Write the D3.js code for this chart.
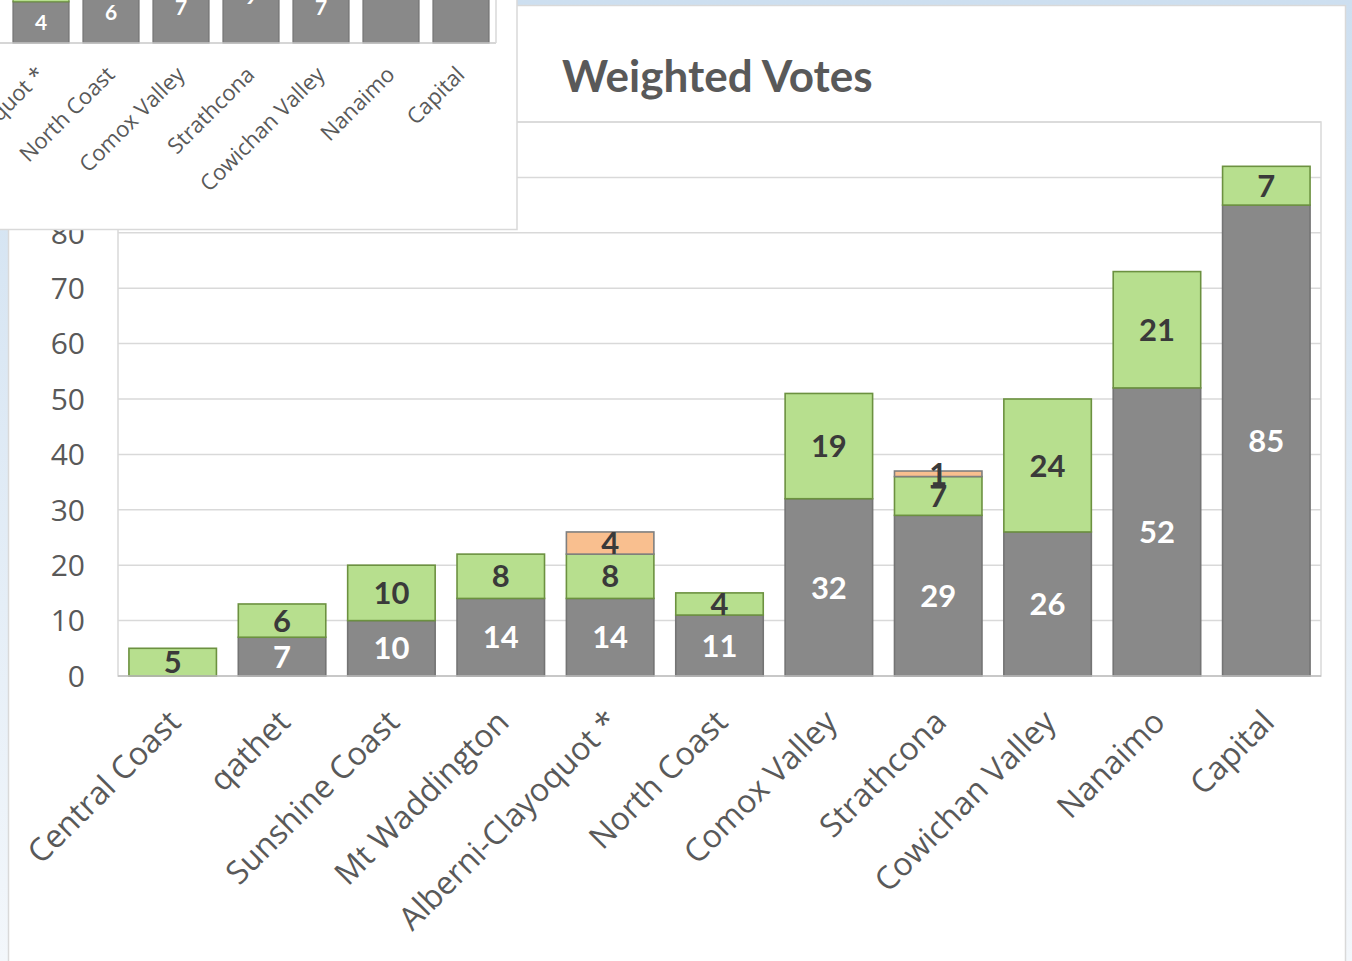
<!DOCTYPE html>
<html>
<head>
<meta charset="utf-8">
<script src="https://cdn.jsdelivr.net/npm/d3@7"></script>
<style>
  html, body { margin: 0; padding: 0; background: #dde8f4; overflow: hidden; }
  svg { display: block; }
</style>
</head>
<body>
<svg id="chart" width="1352" height="961"></svg>
<script>
// ---- data ----
const categories = ["Central Coast", "qathet", "Sunshine Coast", "Mt Waddington", "Alberni-Clayoquot *",
  "North Coast", "Comox Valley", "Strathcona", "Cowichan Valley", "Nanaimo", "Capital"];
const grayValues   = [0, 7, 10, 14, 14, 11, 32, 29, 26, 52, 85];
const greenValues  = [5, 6, 10, 8, 8, 4, 19, 7, 24, 21, 7];
const orangeValues = [0, 0, 0, 0, 4, 0, 0, 1, 0, 0, 0];
const yTicks = [0, 10, 20, 30, 40, 50, 60, 70, 80, 90, 100];
const titleText = "Weighted Votes";

// partially visible overlapping chart (top-left)
const insetCategories = ["Alberni-Clayoquot", "North Coast", "Comox Valley", "Strathcona", "Cowichan Valley", "Nanaimo", "Capital"];
const insetGray  = [4, 6, 7, 9, 7, 13, 22];
const insetGreen = [4, 0, 0, 0, 0, 0, 0];

// ---- drawing ----
const svg = d3.select("#chart");
const W = 1352, H = 961;

const defs = svg.append("defs");
const lg = defs.append("linearGradient").attr("id", "bg").attr("x1", 0).attr("y1", 0).attr("x2", 0).attr("y2", 1);
lg.append("stop").attr("offset", "0%").attr("stop-color", "#cddff0");
lg.append("stop").attr("offset", "100%").attr("stop-color", "#f3f7fb");
svg.append("rect").attr("width", W).attr("height", H).attr("fill", "url(#bg)");

// main panel
svg.append("rect").attr("x", 8.5).attr("y", 5.5).attr("width", 1337).attr("height", 1000)
  .attr("fill", "#fff").attr("stroke", "#d9d9d9").attr("stroke-width", 1.5);

svg.append("text").attr("x", 562).attr("y", 92)
  .attr("font-family", "Lato, 'Open Sans', sans-serif").attr("font-weight", 700)
  .attr("font-size", 44).attr("fill", "#595959").text(titleText);

const plot = { left: 118, right: 1321, top: 122, bottom: 676 };
const x = d3.scaleBand().domain(categories).range([plot.left, plot.right]).paddingInner(0.2).paddingOuter(0.1);
const y = d3.scaleLinear().domain([0, 100]).range([plot.bottom, plot.top]);

// gridlines
svg.append("g").selectAll("line").data(yTicks.filter(d => d > 0)).join("line")
  .attr("x1", plot.left).attr("x2", plot.right)
  .attr("y1", d => y(d)).attr("y2", d => y(d))
  .attr("stroke", "#d9d9d9").attr("stroke-width", 1.5);
svg.append("rect").attr("x", plot.left).attr("y", plot.top).attr("width", plot.right - plot.left)
  .attr("height", plot.bottom - plot.top).attr("fill", "none").attr("stroke", "#d9d9d9").attr("stroke-width", 1.5);

// y tick labels
svg.append("g").selectAll("text").data(yTicks).join("text")
  .attr("x", 85).attr("y", d => y(d)).attr("dy", "0.36em")
  .attr("text-anchor", "end")
  .attr("font-family", "'Open Sans', sans-serif").attr("font-size", 30)
  .attr("fill", "#595959").text(d => d);

// stacked bars
const rows = categories.map((c, i) => ({ cat: c, gray: grayValues[i], green: greenValues[i], orange: orangeValues[i] }));
const keys = ["gray", "green", "orange"];
const fills = { gray: "#898989", green: "#b7df8e", orange: "#f9bf8f" };
const strokes = { gray: "#747474", green: "#6c9140", orange: "#7f7f7f" };
const labelColors = { gray: "#ffffff", green: "#3a3a3a", orange: "#3a3a3a" };
const stacked = d3.stack().keys(keys)(rows);

const barG = svg.append("g");
stacked.forEach(layer => {
  barG.append("g").selectAll("rect").data(layer.filter(d => d[1] - d[0] > 0)).join("rect")
    .attr("x", d => x(d.data.cat)).attr("width", x.bandwidth())
    .attr("y", d => y(d[1])).attr("height", d => y(d[0]) - y(d[1]))
    .attr("fill", fills[layer.key]).attr("stroke", strokes[layer.key]).attr("stroke-width", 1.6);
});
// axis base line
svg.append("line").attr("x1", plot.left).attr("x2", plot.right).attr("y1", plot.bottom).attr("y2", plot.bottom)
  .attr("stroke", "#bfbfbf").attr("stroke-width", 1.5);

stacked.forEach(layer => {
  barG.append("g").selectAll("text").data(layer.filter(d => d[1] - d[0] > 0)).join("text")
    .attr("x", d => x(d.data.cat) + x.bandwidth() / 2)
    .attr("y", d => y((d[0] + d[1]) / 2)).attr("dy", "0.36em")
    .attr("text-anchor", "middle")
    .attr("font-family", "Lato, sans-serif").attr("font-weight", 700).attr("font-size", 31)
    .attr("fill", labelColors[layer.key]).text(d => d[1] - d[0]);
});

// category labels
svg.append("g").selectAll("text").data(categories).join("text")
  .attr("transform", d => `translate(${x(d) + x.bandwidth() / 2 + 10},${plot.bottom + 48}) rotate(-45)`)
  .attr("text-anchor", "end")
  .attr("font-family", "'Open Sans', sans-serif").attr("font-size", 32)
  .attr("fill", "#595959").text(d => d);

// ---- inset (overlapping second chart) ----
const ins = svg.append("g");
ins.append("rect").attr("x", -2).attr("y", -2).attr("width", 519).attr("height", 231.5)
  .attr("fill", "#fff").attr("stroke", "#d9d9d9").attr("stroke-width", 1.5);
const ix = d3.scaleBand().domain(insetCategories).range([6, 496]).paddingInner(0.2).paddingOuter(0.1);
const iy = d3.scaleLinear().domain([0, 10]).range([43, -60]);
const irows = insetCategories.map((c, i) => ({ cat: c, gray: insetGray[i], green: insetGreen[i] }));
const istack = d3.stack().keys(["gray", "green"])(irows);
istack.forEach(layer => {
  ins.append("g").selectAll("rect").data(layer.filter(d => d[1] - d[0] > 0)).join("rect")
    .attr("x", d => ix(d.data.cat)).attr("width", ix.bandwidth())
    .attr("y", d => iy(d[1])).attr("height", d => iy(d[0]) - iy(d[1]))
    .attr("fill", fills[layer.key]).attr("stroke", strokes[layer.key]).attr("stroke-width", 1.2);
});
ins.append("line").attr("x1", 0).attr("x2", 496).attr("y1", 43).attr("y2", 43)
  .attr("stroke", "#c8c8c8").attr("stroke-width", 1.5);
ins.append("line").attr("x1", 496).attr("x2", 496).attr("y1", 0).attr("y2", 43)
  .attr("stroke", "#d9d9d9").attr("stroke-width", 1.5);
ins.append("g").selectAll("text").data(istack[0]).join("text")
  .attr("x", d => ix(d.data.cat) + ix.bandwidth() / 2)
  .attr("y", d => iy((d[0] + d[1]) / 2)).attr("dy", "0.36em")
  .attr("text-anchor", "middle")
  .attr("font-family", "Lato, sans-serif").attr("font-weight", 700).attr("font-size", 21)
  .attr("fill", "#fff").text(d => d[1] - d[0]);
ins.append("g").selectAll("text").data(insetCategories.map((c, i) => i === 0 ? "Alberni-Clayoquot *" : c)).join("text")
  .attr("transform", (d, i) => `translate(${ix(insetCategories[i]) + ix.bandwidth() / 2 + 5},${76}) rotate(-45)`)
  .attr("text-anchor", "end")
  .attr("font-family", "'Open Sans', sans-serif").attr("font-size", 22)
  .attr("fill", "#595959").text(d => d);
</script>
</body>
</html>
